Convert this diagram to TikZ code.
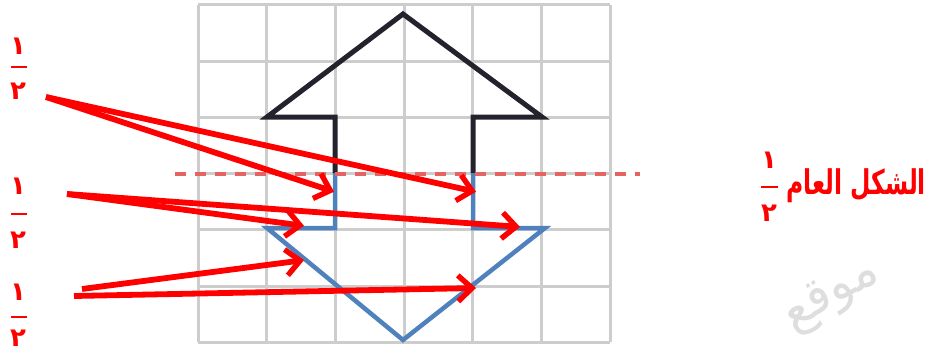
\documentclass[tikz,border=0pt]{standalone}
\usepackage{fontspec}
\newfontfamily\arabicfont[Script=Arabic]{DejaVu Sans}
\TeXXeTstate=1
\usetikzlibrary{arrows.meta}
\definecolor{shapeblue}{RGB}{79,129,189}
\definecolor{shapeblack}{RGB}{35,35,45}
\definecolor{gridgray}{RGB}{205,205,205}
\definecolor{dashred}{RGB}{228,100,100}
\definecolor{markred}{RGB}{255,0,0}
\definecolor{wmgray}{RGB}{222,222,222}
\tikzset{
  gridline/.style={draw=gridgray, line width=3pt},
  blackshape/.style={draw=shapeblack, line width=5pt, line join=miter},
  blueshape/.style={draw=shapeblue, line width=4.5pt, line join=miter},
  midline/.style={draw=dashred, line width=3.4pt, dash pattern=on 11pt off 9pt},
  redarrow/.style={draw=markred, line width=5.8pt,
    -{Straight Barb[length=14pt,width=26pt,line width=5.4pt]}, shorten >=1pt},
  digit/.style={text=markred, font=\arabicfont\bfseries\fontsize{26}{26}\selectfont, inner sep=0pt},
  fracbar/.style={draw=markred, line width=2.8pt},
  title/.style={text=markred, font=\arabicfont\bfseries\fontsize{34}{34}\selectfont, inner sep=0pt, xscale=0.69},
  watermark/.style={text=wmgray, font=\arabicfont\fontsize{50}{50}\selectfont, inner sep=0pt}
}
\begin{document}
\begin{tikzpicture}[x=1pt, y=-1pt]
\useasboundingbox (0,0) rectangle (935,353);
% grid
\foreach \i in {0,...,6} {
  \draw[gridline] ({198.3+68.65*\i},5) -- ({198.3+68.65*\i},342.2);
  \draw[gridline] (198.3,{5+56.2*\i}) -- (610.2,{5+56.2*\i});
}
% watermark
\node[watermark, rotate=30] (wm) at (832,296) {\beginR موقع\endR};
% key points
\coordinate (apex) at (403,14);
\coordinate (hl) at (267,117);
\coordinate (hr) at (542,117);
\coordinate (sl-top) at (335,117);
\coordinate (sr-top) at (473,117);
\coordinate (sl-mid) at (335,173);
\coordinate (sr-mid) at (473,173);
\coordinate (sl-bot) at (335,228);
\coordinate (sr-bot) at (473,228);
\coordinate (bl) at (267,228);
\coordinate (br) at (545,228);
\coordinate (bottom) at (403,340);
% black upper half
\draw[blackshape] (sl-mid) -- (sl-top) -- (hl) -- (apex) -- (hr) -- (sr-top) -- (sr-mid);
% blue reflected half
\draw[blueshape] (sl-mid) -- (sl-bot) -- (bl) -- (bottom) -- (br) -- (sr-bot) -- (sr-mid);
% dashed line
\coordinate (dl) at (175,174);
\coordinate (dr) at (640,174);
\draw[midline] (dl) -- (dr);
% left fractions
\node[digit] (fa-n) at (18,46) {\beginR ١\endR};
\coordinate (fa-l) at (11,67); \coordinate (fa-r) at (27,67);
\draw[fracbar] (fa-l) -- (fa-r);
\node[digit] (fa-d) at (18,91) {\beginR ٢\endR};
\node[digit] (fb-n) at (18,186) {\beginR ١\endR};
\coordinate (fb-l) at (11,214); \coordinate (fb-r) at (27,214);
\draw[fracbar] (fb-l) -- (fb-r);
\node[digit] (fb-d) at (18,240) {\beginR ٢\endR};
\node[digit] (fc-n) at (18,292) {\beginR ١\endR};
\coordinate (fc-l) at (11,317); \coordinate (fc-r) at (27,317);
\draw[fracbar] (fc-l) -- (fc-r);
\node[digit] (fc-d) at (18,338) {\beginR ٢\endR};
% right label
\node[title, anchor=east] (lbl) at (926,186) {\beginR الشكل العام\endR};
\node[digit] (fr-n) at (769,160) {\beginR ١\endR};
\coordinate (fr-l) at (761,187); \coordinate (fr-r) at (778,187);
\draw[fracbar] (fr-l) -- (fr-r);
\node[digit] (fr-d) at (769,213) {\beginR ٢\endR};
% arrows
\coordinate (s1) at (46,97);
\coordinate (s2) at (67,194);
\coordinate (s3) at (82,289);
\coordinate (s4) at (74,296);
\coordinate (t1) at (335,192);
\coordinate (t2) at (477,192);
\coordinate (t3) at (305,226);
\coordinate (t4) at (521,227);
\coordinate (t5) at (305,260);
\coordinate (t6) at (477,288);
\draw[redarrow] (s1) -- (t1);
\draw[redarrow] (s1) -- (t2);
\draw[redarrow] (s2) -- (t3);
\draw[redarrow] (s2) -- (t4);
\draw[redarrow] (s3) -- (t5);
\draw[redarrow] (s4) -- (t6);
\end{tikzpicture}
\end{document}
